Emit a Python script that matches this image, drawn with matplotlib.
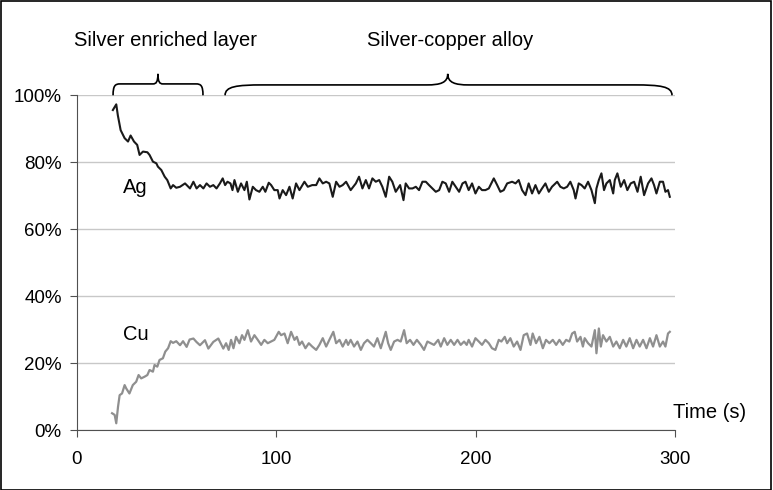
import matplotlib
matplotlib.use("Agg")
import matplotlib.pyplot as plt
from matplotlib.path import Path
from matplotlib.patches import PathPatch, Rectangle

plt.rcParams['font.family'] = ['Liberation Sans', 'DejaVu Sans']

# Ag signal (time in s, atomic %)
ag_time = [18.0, 19.7, 20.5, 21.9, 23.9, 25.6, 26.9, 28.6, 30.2, 31.4, 33.1, 35.3, 36.4, 38.1,
           39.8, 40.6, 42.3, 44.0, 45.3, 47.0, 48.2, 49.8, 51.7, 54.2, 56.7, 58.4, 60.0, 61.7,
           63.4, 65.0, 66.7, 68.4, 70.0, 71.7, 73.1, 74.3, 75.5, 77.0, 78.0, 79.0, 80.7, 82.3,
           84.0, 85.2, 86.5, 88.2, 89.8, 91.5, 93.2, 94.5, 96.2, 97.4, 99.0, 100.7, 101.6, 103.2,
           104.9, 106.6, 108.2, 109.9, 111.6, 114.1, 115.8, 118.0, 120.0, 121.6, 123.3, 125.0,
           126.6, 128.3, 130.0, 131.7, 133.3, 135.0, 137.3, 139.9, 141.5, 143.2, 144.9, 146.5,
           148.2, 149.9, 151.6, 153.2, 154.9, 156.6, 158.2, 159.9, 162.1, 163.8, 164.9, 166.6,
           168.3, 170.0, 171.6, 173.3, 175.0, 176.6, 178.3, 180.0, 181.7, 183.3, 185.0, 186.7,
           188.3, 190.0, 191.7, 193.4, 194.9, 196.5, 198.2, 199.9, 201.6, 203.2, 204.9, 206.6,
           209.1, 210.8, 212.4, 214.1, 215.8, 218.3, 220.0, 221.6, 223.3, 225.0, 226.6, 228.3,
           230.0, 231.7, 233.3, 235.0, 236.7, 238.3, 240.9, 242.5, 244.2, 245.9, 247.5, 249.2,
           250.1, 251.7, 253.1, 254.7, 256.4, 258.1, 259.8, 260.6, 261.8, 263.1, 264.4, 265.6,
           267.3, 269.0, 269.8, 271.1, 272.8, 274.5, 276.1, 277.8, 279.5, 281.2, 282.8, 284.5,
           286.5, 288.2, 289.5, 290.7, 292.4, 294.0, 295.2, 296.5, 297.4]
ag_pct = [95.6, 97.3, 94.0, 89.6, 87.2, 86.2, 88.0, 86.2, 85.2, 82.2, 83.2, 83.0, 82.2, 80.2,
          79.7, 78.7, 77.7, 75.7, 74.7, 72.2, 73.2, 72.4, 72.7, 73.7, 72.2, 74.2, 72.2, 73.2,
          72.2, 73.7, 72.7, 73.2, 72.2, 73.7, 75.2, 73.2, 74.2, 73.7, 71.7, 74.7, 71.2, 73.7,
          71.7, 74.2, 68.9, 72.7, 71.7, 71.2, 72.7, 71.2, 73.9, 73.2, 71.7, 71.7, 69.2, 71.7,
          70.2, 72.7, 69.2, 73.7, 71.7, 74.2, 72.7, 73.2, 73.2, 75.2, 73.7, 74.2,
          73.7, 69.7, 74.2, 72.7, 73.2, 74.2, 71.7, 73.7, 75.7, 72.2, 74.7, 72.2,
          75.2, 74.2, 74.7, 72.7, 69.7, 75.7, 74.2, 71.2, 73.2, 68.7, 73.7, 72.2,
          72.2, 72.7, 71.7, 74.2, 74.2, 73.2, 72.2, 71.2, 71.7, 74.2, 73.7, 71.2,
          74.2, 72.7, 71.2, 73.7, 74.2, 71.7, 73.7, 70.7, 72.7, 71.7, 71.7, 72.2,
          75.2, 73.2, 71.2, 71.7, 73.7, 74.2, 73.7, 74.7, 71.7, 70.2, 73.7, 70.7,
          73.2, 70.7, 72.2, 73.7, 71.2, 72.7, 74.2, 72.7, 72.2, 72.7, 74.2, 71.7,
          69.2, 73.7, 73.2, 72.2, 74.2, 71.7, 67.8, 72.2, 74.7, 76.7, 71.7, 73.7,
          74.7, 70.7, 74.7, 76.7, 72.7, 74.7, 71.7, 73.7, 74.2, 71.2, 75.7, 70.2,
          73.7, 75.2, 73.2, 70.7, 74.2, 74.2, 71.2, 71.7, 69.7]

# Cu signal (time in s, atomic %)
cu_time = [17.6, 18.9, 19.7, 20.6, 21.4, 22.6, 23.9, 24.7, 26.3, 28.0, 29.7, 30.9, 32.2, 33.9,
           35.3, 36.4, 38.1, 38.9, 40.3, 41.4, 43.1, 44.3, 45.7, 47.0, 48.2, 49.8, 51.7, 53.2,
           55.0, 56.5, 58.4, 59.9, 61.7, 64.2, 65.9, 68.4, 70.9, 73.4, 74.8, 76.1, 77.3, 78.5,
           79.8, 81.5, 82.8, 84.0, 85.7, 87.3, 89.0, 90.7, 92.4, 94.0, 95.7, 97.4, 99.0, 101.2,
           102.4, 104.1, 105.7, 107.4, 109.1, 110.3, 111.6, 112.9, 114.6, 116.3, 118.0, 120.0,
           121.6, 123.3, 125.0, 126.6, 128.6, 130.0, 131.7, 133.3, 135.0, 136.0, 137.3, 139.0,
           140.7, 142.4, 144.0, 145.7, 147.4, 149.0, 150.7, 152.4, 154.1, 154.9, 156.1, 157.4,
           159.1, 160.8, 162.4, 164.1, 165.4, 167.1, 168.8, 170.5, 172.5, 174.1, 175.8, 177.5,
           179.1, 181.2, 182.5, 184.2, 185.8, 187.5, 189.2, 190.9, 192.5, 194.2, 195.5, 196.5,
           198.2, 199.9, 201.6, 203.2, 204.9, 206.6, 208.2, 209.9, 211.6, 212.9, 214.6, 215.8,
           217.4, 219.1, 220.8, 222.5, 224.1, 225.8, 227.5, 228.6, 230.3, 232.0, 233.7, 235.3,
           237.0, 238.7, 240.4, 242.0, 243.7, 245.4, 247.0, 248.4, 249.7, 250.9, 252.6, 253.8,
           254.7, 256.4, 258.1, 259.8, 260.6, 261.8, 262.8, 263.9, 265.6, 267.3, 269.0, 270.6,
           272.3, 274.0, 275.6, 277.3, 279.0, 280.7, 282.3, 284.0, 285.7, 287.4, 289.0, 290.7,
           292.4, 294.0, 295.2, 296.5, 297.4]
cu_pct = [5.1, 4.6, 2.1, 7.1, 10.5, 11.0, 13.5, 12.5, 11.0, 13.5, 14.5, 16.5, 15.5, 16.0,
          16.5, 18.0, 17.5, 19.5, 19.0, 21.0, 21.5, 23.5, 24.5, 26.6, 26.1, 26.6, 25.4, 26.6,
          24.9, 27.1, 27.4, 26.4, 25.4, 26.9, 24.4, 26.4, 27.4, 24.4, 26.0, 24.0, 27.0, 24.5,
          27.9, 26.0, 28.4, 27.0, 29.9, 26.5, 28.4, 27.0, 25.5, 27.0, 26.0, 26.5, 27.0, 29.4,
          28.4, 28.9, 26.0, 29.4, 27.0, 27.9, 25.5, 26.5, 24.5, 26.0, 25.0, 24.0,
          25.5, 27.5, 25.0, 27.0, 29.4, 26.0, 27.0, 25.0, 27.0, 25.5, 27.0, 25.0,
          26.5, 24.0, 26.0, 27.0, 26.0, 25.0, 27.5, 24.5, 27.9, 29.4, 26.0, 24.0,
          26.5, 27.0, 26.5, 29.9, 26.0, 27.0, 25.5, 27.0, 25.5, 24.0, 26.5, 26.0,
          25.5, 27.0, 25.0, 27.5, 25.5, 27.0, 25.5, 27.0, 25.5, 26.5, 25.5, 27.0,
          25.0, 27.5, 26.5, 25.5, 27.0, 26.0, 24.5, 24.0, 27.0, 26.5, 27.9, 26.0,
          27.5, 25.0, 26.5, 24.0, 28.4, 28.9, 25.5, 28.9, 26.0, 27.9, 24.5, 27.0,
          26.0, 27.0, 25.5, 27.0, 25.5, 27.0, 26.5, 28.9, 29.4, 26.5, 27.9, 25.0,
          27.5, 26.0, 25.0, 29.9, 23.0, 30.4, 25.0, 28.4, 26.5, 27.9, 25.0, 26.5,
          24.5, 27.0, 25.0, 27.5, 24.5, 27.0, 25.0, 27.0, 24.5, 27.5, 25.0, 28.4,
          25.0, 26.5, 25.0, 28.9, 29.4]

y_ticks = [0, 20, 40, 60, 80, 100]
y_ticklabels = ['0%', '20%', '40%', '60%', '80%', '100%']
x_ticks = [0, 100, 200, 300]

# braces: (start, end, tip position, end curve width, tip curve width, flat level)
braces = [(18.1, 63.2, 40.6, 3.5, 2.5, 103.4),
          (74.3, 298.5, 186.0, 19.0, 10.5, 103.1)]
region_labels = ['Silver enriched layer', 'Silver-copper alloy']
region_label_x = [44.2, 187.2]


def draw_brace(ax, x0, x1, xm, r_end, r_tip, yb, y0=100.0, yt=106.4):
    verts = [(x0, y0),
             (x0, y0 + (yb - y0) * 0.85), (x0 + r_end * 0.3, yb), (x0 + r_end, yb),
             (xm - r_tip, yb),
             (xm - r_tip * 0.35, yb), (xm, yb + (yt - yb) * 0.2), (xm, yt),
             (xm, yb + (yt - yb) * 0.2), (xm + r_tip * 0.35, yb), (xm + r_tip, yb),
             (x1 - r_end, yb),
             (x1 - r_end * 0.3, yb), (x1, y0 + (yb - y0) * 0.85), (x1, y0)]
    codes = [Path.MOVETO, Path.CURVE4, Path.CURVE4, Path.CURVE4, Path.LINETO,
             Path.CURVE4, Path.CURVE4, Path.CURVE4, Path.CURVE4, Path.CURVE4, Path.CURVE4,
             Path.LINETO, Path.CURVE4, Path.CURVE4, Path.CURVE4]
    ax.add_patch(PathPatch(Path(verts, codes), fill=False, lw=1.2, ec='black',
                           clip_on=False, transform=ax.transData))


fig = plt.figure(figsize=(7.73, 4.90), dpi=100)
ax = fig.add_axes([0.0996, 0.1218, 0.7736, 0.6837])

ax.plot(ag_time, ag_pct, color='#1a1a1a', lw=1.5)
ax.plot(cu_time, cu_pct, color='#8f8f8f', lw=1.6)

ax.set_xlim(0, 300)
ax.set_ylim(0, 100)
ax.set_yticks(y_ticks)
ax.set_yticklabels(y_ticklabels)
ax.set_xticks(x_ticks)
ax.grid(axis='y', color='#c8c8c8', lw=1)
ax.set_axisbelow(True)
for s in ['top', 'right']:
    ax.spines[s].set_visible(False)
for s in ['left', 'bottom']:
    ax.spines[s].set_color('#505050')
ax.tick_params(axis='x', length=5, pad=10, labelsize=13.5, color='#505050')
ax.tick_params(axis='y', length=5, pad=6, labelsize=13.5, color='#505050')

for b in braces:
    draw_brace(ax, b[0], b[1], b[2], b[3], b[4], b[5])
for lab, xc in zip(region_labels, region_label_x):
    ax.text(xc, 114.7, lab, ha='center', va='baseline', fontsize=14.5, clip_on=False)

ax.text(23.2, 70.7, 'Ag', ha='left', va='baseline', fontsize=14.5)
ax.text(23.2, 27.0, 'Cu', ha='left', va='baseline', fontsize=14.5)
ax.text(299, 3.7, 'Time (s)', ha='left', va='baseline', fontsize=14.5, clip_on=False)

fig.add_artist(Rectangle((0.001, 0.001), 0.997, 0.997, transform=fig.transFigure,
                         fill=False, ec='black', lw=1.2))

fig.savefig('out.png', dpi=100)
